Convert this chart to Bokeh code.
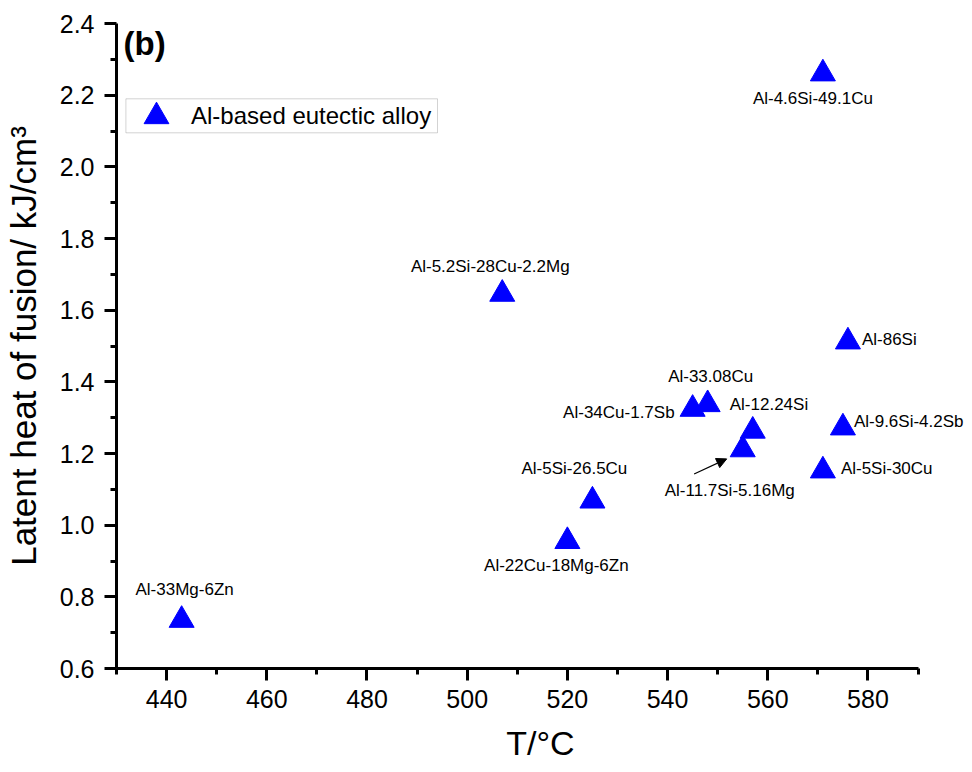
from bokeh.plotting import figure
from bokeh.models import (Range1d, SingleIntervalTicker, FixedTicker, PrintfTickFormatter, Legend,
                          LegendItem, BoxAnnotation, Label, LabelSet, Arrow, NormalHead,
                          ColumnDataSource)
from bokeh.core.properties import field, value
from bokeh.embed import file_html
from bokeh.resources import INLINE

# ---- data ----
alloys = ["Al-33Mg-6Zn", "Al-22Cu-18Mg-6Zn", "Al-5Si-26.5Cu", "Al-5.2Si-28Cu-2.2Mg",
          "Al-34Cu-1.7Sb", "Al-33.08Cu", "Al-12.24Si", "Al-11.7Si-5.16Mg",
          "Al-5Si-30Cu", "Al-9.6Si-4.2Sb", "Al-86Si", "Al-4.6Si-49.1Cu"]
melting_T = [443, 520, 525, 507, 545, 548, 557, 555, 571, 575, 576, 571]
latent_heat = [0.735, 0.955, 1.068, 1.645, 1.324, 1.337, 1.263, 1.211, 1.152, 1.272, 1.512, 2.26]

x_axis_min, x_axis_max = 430, 590
y_ticks = [0.6, 0.8, 1.0, 1.2, 1.4, 1.6, 1.8, 2.0, 2.2, 2.4]
y_minor_ticks = [0.7, 0.9, 1.1, 1.3, 1.5, 1.7, 1.9, 2.1, 2.3]

# ---- label layout (screen pixel offsets from each point; y positive = up) ----
label_dx = [3, -11, -18, -12, -18, 3, -23, -13, 18, 11, 14, -10]
label_dy = [31, -24, 32, 28, -3, 28, 26, -41, 2, 6, 2, -25]
label_align = ["center", "center", "center", "center", "right", "center", "left",
               "center", "left", "left", "left", "center"]

FONT = "Liberation Sans"

src = ColumnDataSource(dict(T=melting_T, L=latent_heat, name=alloys,
                            dx=label_dx, dy=label_dy, align=label_align))

W, H = 964, 764
LEFT, TOP, BOTTOM = 113, 23, 96
px_per_unit = 804.4 / (x_axis_max - x_axis_min)
x_end = x_axis_min + (W - LEFT) / px_per_unit   # frame extends to the right edge for labels

p = figure(width=W, height=H, output_backend="svg", toolbar_location=None,
           x_range=Range1d(x_axis_min, x_end), y_range=Range1d(0.6, 2.4),
           min_border_left=LEFT, min_border_right=0, min_border_top=TOP, min_border_bottom=BOTTOM,
           x_axis_label="T/°C", y_axis_label="Latent heat of fusion/ kJ/cm³")

p.grid.visible = False
p.outline_line_color = None
p.background_fill_color = "white"
p.border_fill_color = "white"

p.xaxis.ticker = SingleIntervalTicker(interval=20, num_minor_ticks=2)
p.xaxis.bounds = (x_axis_min, x_axis_max)
p.yaxis.ticker = FixedTicker(ticks=y_ticks, minor_ticks=y_minor_ticks)
p.yaxis.formatter = PrintfTickFormatter(format="%.1f")

for ax in (p.xaxis[0], p.yaxis[0]):
    ax.axis_line_width = 3
    ax.axis_line_color = "black"
    ax.major_tick_line_width = 3
    ax.minor_tick_line_width = 3
    ax.major_tick_in = 0
    ax.major_tick_out = 12
    ax.minor_tick_in = 0
    ax.minor_tick_out = 6
    ax.major_label_text_font = FONT
    ax.major_label_text_font_size = "25px"
    ax.major_label_text_color = "black"
    ax.axis_label_text_font = FONT
    ax.axis_label_text_font_size = "34px"
    ax.axis_label_text_font_style = "normal"
    ax.axis_label_text_color = "black"

p.yaxis.axis_label_text_font_size = "35px"
p.xaxis.major_label_standoff = 9
p.xaxis.axis_label_standoff = 13
p.yaxis.major_label_standoff = 10
p.yaxis.axis_label_standoff = 14

pts = p.scatter(x="T", y="L", source=src, marker="triangle", size=25,
                fill_color="#0000FF", line_color="#0000FF")

p.add_layout(LabelSet(x="T", y="L", text="name", source=src, x_offset="dx", y_offset="dy",
                      text_align=field("align"), text_baseline="middle",
                      text_font=value(FONT), text_font_size=value("17px"),
                      text_color="black"))

# arrow pointing to Al-11.7Si-5.16Mg
i = alloys.index("Al-11.7Si-5.16Mg")
p.add_layout(Arrow(end=NormalHead(size=10, fill_color="black", line_color="black", line_width=1),
                   x_start=melting_T[i] - 9.7, y_start=latent_heat[i] - 0.068,
                   x_end=melting_T[i] - 3.2, y_end=latent_heat[i] - 0.026,
                   line_width=1.2, line_color="black"))

# panel tag
p.add_layout(Label(x=7, y=644, x_units="screen", y_units="screen", text="(b)",
                   text_font=FONT, text_font_size="33px", text_font_style="bold",
                   text_baseline="top", text_color="black"))

# legend (frame drawn separately)
legend = Legend(items=[LegendItem(label="Al-based eutectic alloy", renderers=[pts])],
                location=(9, 521), glyph_width=62, glyph_height=62, padding=0, margin=0,
                label_standoff=4, spacing=0, border_line_color=None, background_fill_alpha=0,
                label_text_font=FONT, label_text_font_size="24px", label_text_color="black")
p.add_layout(legend)
p.add_layout(BoxAnnotation(left=9.4, right=321, top=569.7, bottom=535.7,
                           left_units="screen", right_units="screen",
                           top_units="screen", bottom_units="screen",
                           fill_color=None, line_color="#6e6e6e", line_width=1))

open("out.html", "w").write(file_html(p, INLINE))
